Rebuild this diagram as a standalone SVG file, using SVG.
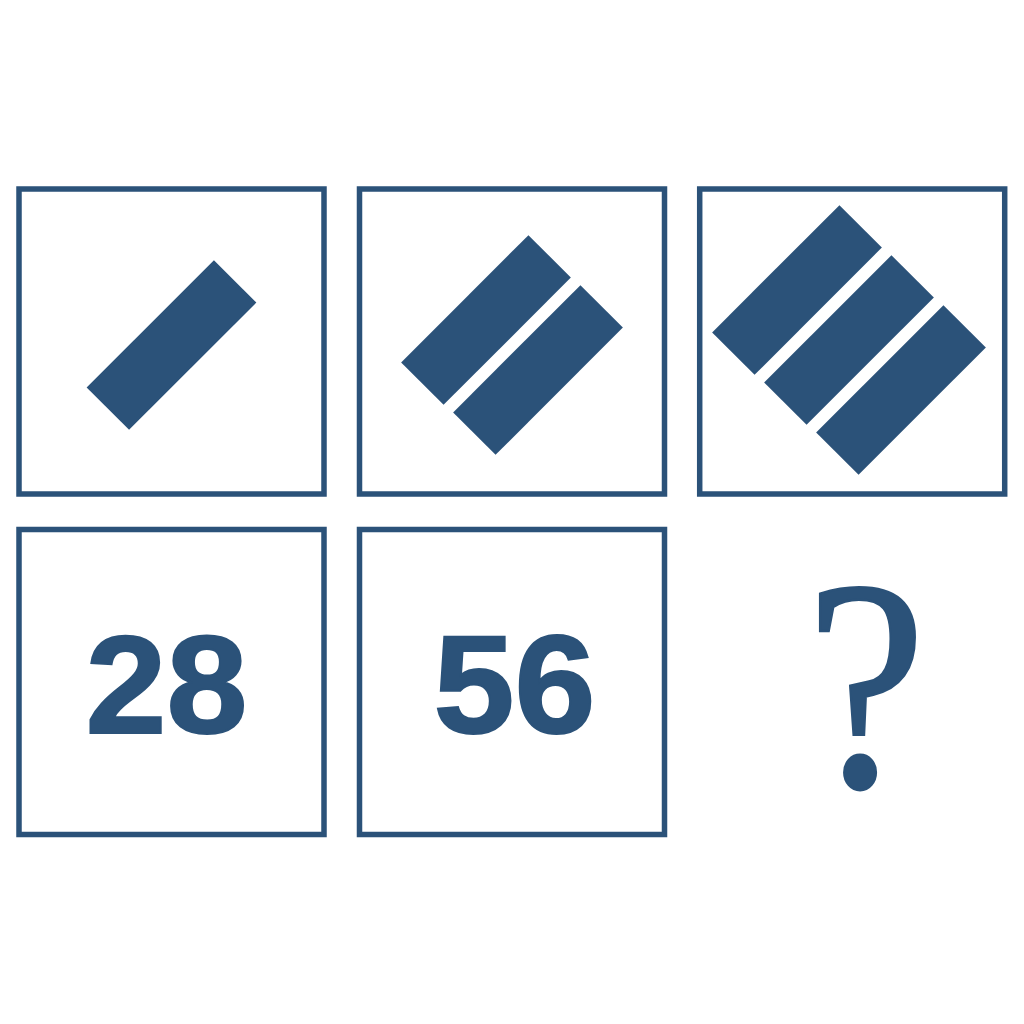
<svg xmlns="http://www.w3.org/2000/svg" width="1024" height="1024" viewBox="0 0 1024 1024">
<style>
.box{fill:#ffffff;stroke:#2b5279;stroke-width:5.5}
.bar{fill:#2b5279}
.num{font-family:"Liberation Sans",Arial,sans-serif;font-weight:bold;font-size:140px;fill:#2b5279;stroke:#2b5279;stroke-width:2;text-anchor:middle}
.q{font-family:"Liberation Serif","Times New Roman",serif;font-size:300px;fill:#2b5279;stroke:#2b5279;stroke-width:2.5;text-anchor:middle}
</style>
<rect width="1024" height="1024" fill="#ffffff"/>
<g id="panel1">
<rect class="box" x="19" y="189" width="305" height="305"/>
<rect class="bar" x="-90" y="-30" width="180" height="60" transform="translate(171.5,345) rotate(-45)"/>
</g>
<g id="panel2">
<rect class="box" x="359.5" y="189" width="305" height="305"/>
<rect class="bar" x="-90" y="-30" width="180" height="60" transform="translate(486,320) rotate(-45)"/>
<rect class="bar" x="-90" y="-30" width="180" height="60" transform="translate(538,370) rotate(-45)"/>
</g>
<g id="panel3">
<rect class="box" x="699.7" y="189" width="305" height="305"/>
<rect class="bar" x="-90" y="-30" width="180" height="60" transform="translate(797,290) rotate(-45)"/>
<rect class="bar" x="-90" y="-30" width="180" height="60" transform="translate(849,340) rotate(-45)"/>
<rect class="bar" x="-90" y="-30" width="180" height="60" transform="translate(901,390) rotate(-45)"/>
</g>
<g id="panel4">
<rect class="box" x="19" y="529.5" width="305" height="305"/>
<text class="num" transform="translate(166.5,733) scale(1.04,1)">28</text>
</g>
<g id="panel5">
<rect class="box" x="359.5" y="529.5" width="305" height="305"/>
<text class="num" transform="translate(514.5,733) scale(1.04,1)">56</text>
</g>
<g id="panel6">
<text class="q" transform="translate(866,786) scale(0.9,1)">?</text>
</g>
</svg>
